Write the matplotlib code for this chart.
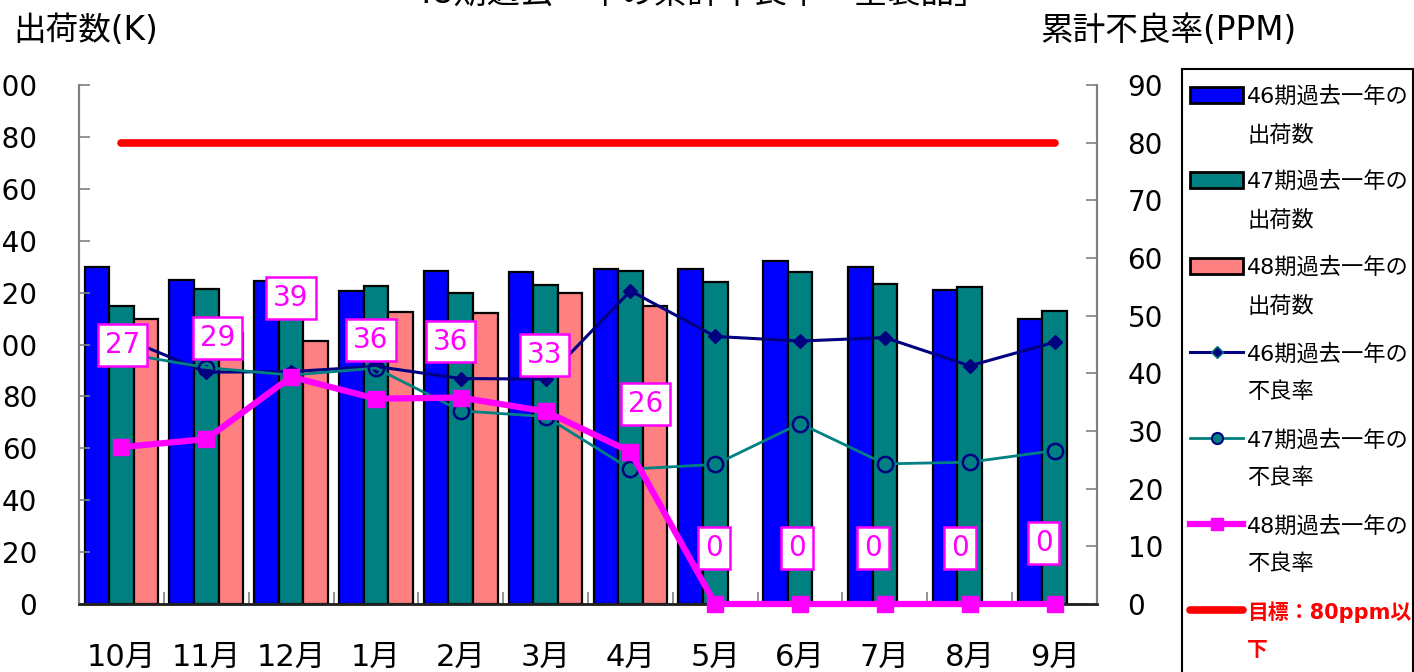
import numpy as np
import matplotlib
matplotlib.use('Agg')
import matplotlib.pyplot as plt
from matplotlib.patches import Rectangle

plt.rcParams['font.family'] = ['DejaVu Sans', 'Noto Sans CJK JP']

# data
months = ['10月', '11月', '12月', '1月', '2月', '3月', '4月', '5月', '6月', '7月', '8月', '9月']
ship46 = [130, 125, 124.5, 120.5, 128.5, 128, 129, 129, 132, 130, 121, 110]
ship47 = [115, 121.5, 117, 122.5, 120, 123, 128.5, 124, 128, 123.5, 122, 113]
ship48 = [110, 104.5, 101.5, 112.5, 112, 120, 115, np.nan, np.nan, np.nan, np.nan, np.nan]
ppm46 = [46.3, 40.2, 40.3, 41.2, 39.1, 39.0, 54.3, 46.4, 45.6, 46.2, 41.3, 45.4]
ppm47 = [43.5, 41.0, 39.7, 40.9, 33.5, 32.5, 23.4, 24.2, 31.3, 24.3, 24.6, 26.6]
ppm48 = [27.2, 28.6, 39.4, 35.6, 35.8, 33.4, 26.4, 0, 0, 0, 0, 0]
target = [80] * 12

legend_labels = ['46期過去一年の\n出荷数', '47期過去一年の\n出荷数', '48期過去一年の\n出荷数',
                 '46期過去一年の\n不良率', '47期過去一年の\n不良率', '48期過去一年の\n不良率',
                 '目標：80ppm以\n下']

# label offsets in pixels (layout only)
lab_dx = [1, 11, 0, -5, -10, -1, 15, -1, -3, -12, -10, -11]
lab_dy = [102, 101, 79, 59, 56, 56, 48, 56, 56, 56, 56, 61]

W, H = 1414, 672
fig = plt.figure(figsize=(W / 100, H / 100), dpi=100)
ax = fig.add_axes([79 / W, 1 - 604 / H, (1097 - 79) / W, (604 - 85) / H])
ax2 = ax.twinx()

x = np.arange(len(months))
bw = 0.29
ax.bar(x - bw, ship46, bw, color='#0000FF', edgecolor='black', linewidth=1.6)
ax.bar(x, ship47, bw, color='#008080', edgecolor='black', linewidth=1.6)
ax.bar(x + bw, ship48, bw, color='#FF8080', edgecolor='black', linewidth=1.6)

ax.set_xlim(-0.5, 11.5)
ax.set_ylim(0, 200)
ax.set_yticks(np.arange(0, 201, 20))
ax.set_xticks(x)
ax.set_xticklabels(months)
ax.set_xticks(np.arange(-0.5, 12, 1), minor=True)
ax.tick_params(axis='x', which='major', length=0, pad=28, labelsize=22)
ax.tick_params(axis='x', which='minor', direction='in', length=8.5, color='gray', width=1.2)
ax.tick_params(axis='y', direction='in', length=8, color='gray', width=1.2, pad=30, labelsize=20)

ax2.plot(x, target, color='#FF0000', linewidth=5.5, solid_capstyle='round', zorder=3)
ax2.plot(x, ppm46, color='#000080', linewidth=2.2, marker='D', markersize=7,
         markerfacecolor='#000080', markeredgecolor='#000080', zorder=4)
ax2.plot(x, ppm47, color='#008080', linewidth=2.0, marker='o', markersize=11,
         markerfacecolor='none', markeredgecolor='#000080', markeredgewidth=1.8, zorder=4)
ax2.plot(x, ppm48, color='#FF00FF', linewidth=4.5, marker='s', markersize=11.5,
         markerfacecolor='#FF00FF', markeredgecolor='#FF00FF', zorder=5, clip_on=False)
ax2.set_ylim(0, 90)
ax2.set_yticks(np.arange(0, 91, 10))
ax2.tick_params(axis='y', direction='in', length=8, color='gray', width=1.2, pad=22, labelsize=20)

for i, v in enumerate(ppm48):
    ax2.annotate('%.0f' % v, (x[i], v), xytext=(lab_dx[i], lab_dy[i]),
                 textcoords='offset pixels', ha='center', va='center',
                 fontsize=20, color='#FF00FF', zorder=10,
                 bbox=dict(boxstyle='square,pad=0.25', facecolor='white',
                           edgecolor='#FF00FF', linewidth=1.8))

for a in (ax, ax2):
    a.spines['top'].set_visible(False)
    a.spines['left'].set_color('gray')
    a.spines['right'].set_color('gray')
    a.spines['left'].set_linewidth(1.5)
    a.spines['right'].set_linewidth(1.5)
    a.spines['bottom'].set_color('#222222')
    a.spines['bottom'].set_linewidth(1.8)

fig.text(13 / W, 1 - 30 / H, '出荷数(K)', fontsize=23.5, ha='left', va='center')
fig.text(1040 / W, 1 - 30 / H, '累計不良率(PPM)', fontsize=23.5, ha='left', va='center')
fig.text(700 / W, 1 - 3 / H, '48期過去一年の累計不良率「全製品」', fontsize=24,
         ha='center', va='baseline')

# legend box drawn by hand, pixel coordinates
lax = fig.add_axes([1182 / W, 0, (1413 - 1182) / W, 1 - 69 / H])
lax.set_xlim(1182, 1413)
lax.set_ylim(672, 69)
lax.set_xticks([])
lax.set_yticks([])
lax.patch.set_alpha(0)
lax.spines['bottom'].set_visible(False)
for s in ('left', 'top', 'right'):
    lax.spines[s].set_linewidth(1.5)

rows = [95, 180, 266, 352, 438, 524, 610]
bar_cols = ['#0000FF', '#008080', '#FF8080']
for k in range(3):
    lax.add_patch(Rectangle((1190, rows[k] - 8), 53, 16, facecolor=bar_cols[k],
                            edgecolor='black', linewidth=2))
hx = [1190, 1216.5, 1243]
lax.plot(hx, [rows[3]] * 3, color='#000080', linewidth=2.2, marker='D', markersize=6,
         markevery=[1], markerfacecolor='#000080', markeredgecolor='#008080')
lax.plot(hx, [rows[4]] * 3, color='#008080', linewidth=2.0, marker='o', markersize=8,
         markevery=[1], markerfacecolor='#008080', markeredgecolor='#000080', markeredgewidth=1.5)
lax.plot(hx, [rows[5]] * 3, color='#FF00FF', linewidth=4.5, marker='s', markersize=8,
         markevery=[1], markerfacecolor='#FF00FF', markeredgecolor='#FF00FF')
lax.plot([1190, 1243], [rows[6]] * 2, color='#FF0000', linewidth=5.5, solid_capstyle='round')

for k, lab in enumerate(legend_labels):
    red = k == 6
    lax.text(1247, rows[k] + 10, lab, fontsize=15 if red else 16, ha='left',
             va='center_baseline', linespacing=2.05, color='#FF0000' if red else 'black',
             fontweight='bold' if red else 'normal', transform=lax.transData)

fig.savefig('out.png', dpi=100)
